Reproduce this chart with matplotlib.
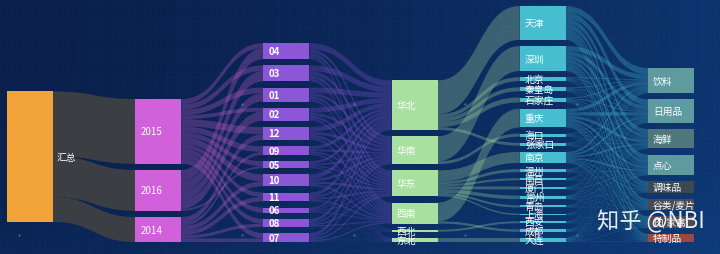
import numpy as np
import matplotlib.pyplot as plt
from matplotlib.path import Path
from matplotlib.patches import PathPatch, Rectangle

plt.rcParams['font.family'] = ['Noto Sans CJK SC', 'DejaVu Sans']

# ---- data ----
root = '汇总'
years = ['2015', '2016', '2014']
months = ['04', '03', '01', '02', '12', '09', '05', '10', '11', '06', '08', '07']
regions = ['华北', '华南', '华东', '西南', '西北', '东北']
cities = ['天津', '深圳', '北京', '秦皇岛', '石家庄', '重庆', '海口', '张家口', '南京',
          '温州', '南昌', '厦门', '常州', '青岛', '上海', '西安', '成都', '大连']
city_region = ['华北', '华南', '华北', '华北', '华北', '西南', '华南', '华北', '华东',
               '华东', '华东', '华东', '华东', '华东', '华东', '西北', '西南', '东北']
products = ['饮料', '日用品', '海鲜', '点心', '调味品', '谷类/麦片', '肉/家禽', '特制品']

# sales per year and month (columns follow `months`)
year_month = [
    [49, 54, 54, 37, 70, 56, 47, 68, 42, 48, 47, 52],   # 2015
    [105, 100, 80, 88, 0, 0, 20, 0, 0, 0, 0, 0],       # 2016
    [0, 0, 0, 0, 55, 30, 0, 47, 44, 0, 30, 34],        # 2014
]

# sales per month and region (rows follow `months`, columns follow `regions`)
month_region = [
    [60, 32, 30, 25, 2, 5],
    [56, 35, 32, 24, 3, 4],
    [52, 28, 27, 21, 2, 4],
    [48, 27, 25, 20, 1, 4],
    [47, 28, 24, 21, 2, 3],
    [32, 19, 17, 14, 1, 3],
    [26, 14, 13, 11, 1, 2],
    [44, 24, 23, 18, 2, 4],
    [33, 18, 17, 14, 1, 3],
    [18, 10, 10, 8, 1, 1],
    [29, 17, 15, 12, 1, 3],
    [33, 17, 17, 14, 2, 3],
]

# sales per city and product (rows follow `cities`, columns follow `products`)
city_product = [
    [62, 59, 48, 51, 28, 28, 29, 21],
    [46, 43, 36, 37, 21, 21, 21, 15],
    [8, 7, 5, 6, 3, 3, 4, 2],
    [7, 7, 6, 6, 3, 3, 4, 2],
    [9, 9, 7, 8, 4, 4, 4, 3],
    [34, 33, 27, 28, 15, 16, 16, 11],
    [6, 5, 4, 5, 3, 2, 2, 2],
    [5, 5, 4, 5, 2, 3, 3, 1],
    [20, 19, 16, 17, 9, 9, 10, 6],
    [6, 5, 4, 4, 3, 2, 2, 2],
    [4, 4, 3, 3, 2, 2, 1, 1],
    [5, 5, 4, 5, 2, 3, 2, 2],
    [7, 6, 5, 5, 3, 3, 3, 2],
    [4, 4, 3, 3, 2, 2, 1, 1],
    [3, 3, 2, 2, 1, 1, 1, 1],
    [4, 3, 3, 3, 2, 1, 2, 1],
    [4, 4, 3, 4, 2, 2, 2, 1],
    [7, 7, 6, 6, 3, 3, 4, 3],
]

# ---- styles ----
level_colors = ['#f2a33a', '#d161da', '#8b57d6', '#a7e0a0', '#47bdd0']
product_colors = ['#5e9a9f', '#5e9a9f', '#4f777b', '#5e9a9f', '#3d4950', '#4a4a53', '#4f4a55', '#a1463b']
link_colors = ['#3e4043', '#d161da', '#8b57d6', '#a7e0a0', '#47bdd0']
link_alpha = [0.95, 0.28, 0.28, 0.3, 0.3]

columns = [[root], years, months, regions, cities, products]

links = []
for i, y in enumerate(years):
    links.append((root, y, sum(year_month[i]), 0))
for i, y in enumerate(years):
    for j, m in enumerate(months):
        if year_month[i][j] > 0:
            links.append((y, m, year_month[i][j], 1))
for i, m in enumerate(months):
    for j, r in enumerate(regions):
        links.append((m, r, month_region[i][j], 2))
for i, c in enumerate(cities):
    links.append((city_region[i], c, sum(city_product[i]), 3))
for i, c in enumerate(cities):
    for j, p in enumerate(products):
        links.append((c, p, city_product[i][j], 4))

# ---- layout (pixel space) ----
W, H = 720, 255
x_left, x_right, node_w = 7, 694, 46
top, bottom, gap = 7, 243, 6.2
col_align = [0.81, 1, 1, 1, 1, 1]

node_in = {}
node_out = {}
for s, t, v, _ in links:
    node_out[s] = node_out.get(s, 0) + v
    node_in[t] = node_in.get(t, 0) + v
value = {n: max(node_in.get(n, 0), node_out.get(n, 0)) for col in columns for n in col}

ky = min((bottom - top - (len(col) - 1) * gap) / sum(value[n] for n in col) for col in columns)
step = (x_right - x_left - node_w) / (len(columns) - 1)

pos = {}
for ci, col in enumerate(columns):
    total = sum(value[n] for n in col) * ky + (len(col) - 1) * gap
    y = top + col_align[ci] * (bottom - top - total)
    for n in col:
        h = value[n] * ky
        pos[n] = (x_left + ci * step, y, h)
        y += h + gap

# link offsets inside nodes
out_off = {}
in_off = {}
for n in pos:
    outs = sorted([l for l in links if l[0] == n], key=lambda l: pos[l[1]][1])
    acc = pos[n][1]
    for l in outs:
        out_off[(l[0], l[1])] = acc
        acc += l[2] * ky
    ins = sorted([l for l in links if l[1] == n], key=lambda l: pos[l[0]][1])
    acc = pos[n][1]
    for l in ins:
        in_off[(l[0], l[1])] = acc
        acc += l[2] * ky

fig = plt.figure(figsize=(7.2, 2.55), dpi=100)
ax = fig.add_axes([0, 0, 1, 1])
ax.set_xlim(0, W)
ax.set_ylim(H, 0)
ax.axis('off')

# background
gx = np.linspace(0, 1, 240)
gy = np.linspace(0, 1, 90)
X, Y = np.meshgrid(gx, gy)
c_left = np.array([10, 31, 76]) / 255
c_right = np.array([14, 60, 122]) / 255
mix = np.clip(0.75 * X ** 1.4 + 0.25 * Y ** 3, 0, 1)[..., None]
bg = c_left + (c_right - c_left) * mix
ax.imshow(bg, extent=(0, W, H, 0), aspect='auto', zorder=0, interpolation='bilinear')
for gxl in np.arange(0, W, 11.15):
    ax.axvline(gxl, color='#6f9fdc', lw=0.4, alpha=0.05, zorder=0.5)
for gyl in np.arange(6, H, 11.15):
    ax.axhline(gyl, color='#6f9fdc', lw=0.4, alpha=0.05, zorder=0.5)
dx = np.arange(19, W, 111.5)
for dy in (105, 236):
    ax.scatter(dx, np.full(len(dx), dy), s=3, color='#5d86c0', alpha=0.6, zorder=0.6, linewidths=0)

# links
for s, t, v, lv in links:
    if v <= 0:
        continue
    x0 = pos[s][0] + node_w
    x1 = pos[t][0]
    h = v * ky
    ys = out_off[(s, t)]
    yt = in_off[(s, t)]
    xm = (x0 + x1) / 2
    verts = [(x0, ys), (xm, ys), (xm, yt), (x1, yt),
             (x1, yt + h), (xm, yt + h), (xm, ys + h), (x0, ys + h), (x0, ys)]
    codes = [Path.MOVETO, Path.CURVE4, Path.CURVE4, Path.CURVE4,
             Path.LINETO, Path.CURVE4, Path.CURVE4, Path.CURVE4, Path.CLOSEPOLY]
    ax.add_patch(PathPatch(Path(verts, codes), facecolor=link_colors[lv],
                           alpha=link_alpha[lv], lw=0, zorder=1))

# nodes and labels
for ci, col in enumerate(columns):
    for k, n in enumerate(col):
        x, y, h = pos[n]
        c = product_colors[k] if ci == 5 else level_colors[ci]
        ax.add_patch(Rectangle((x, y), node_w, h, facecolor=c, lw=0, zorder=2))
        if ci == 0:
            ax.text(x + node_w + 4, y + h / 2, n, color='white', fontsize=7,
                    ha='left', va='center', zorder=3)
        else:
            ax.text(x + 5, y + h / 2, n, color='white', fontsize=7,
                    fontweight='bold' if ci == 2 else 'normal',
                    ha='left', va='center', zorder=3)

ax.text(597, 222, '知乎 @NBI', color='white', fontsize=16, alpha=0.9,
        ha='left', va='center', zorder=4)

fig.savefig('out.png', dpi=100)
